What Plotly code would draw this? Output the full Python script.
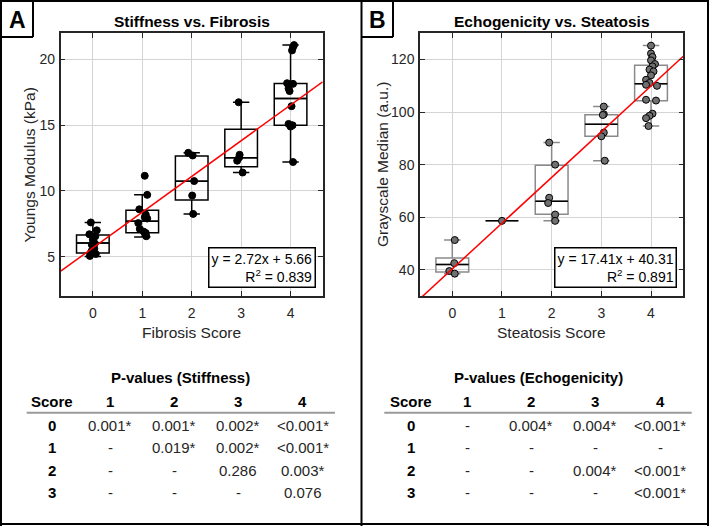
import plotly.graph_objects as go

W, H = 709, 526
FONT = "Liberation Sans, Arial, sans-serif"
TXT = "#262626"

# ---------------- data ----------------
scores = [0, 1, 2, 3, 4]

# Panel A: stiffness (kPa) by fibrosis score
stiff_vals = [
    [7.6, 7.0, 6.7, 6.55, 6.3, 6.0, 5.9, 5.6, 5.4, 5.2, 5.05],
    [11.15, 9.7, 8.6, 8.2, 8.0, 7.9, 7.55, 7.1, 6.9, 6.8, 6.55],
    [12.9, 12.7, 10.75, 9.65, 8.25],
    [16.75, 12.75, 12.55, 12.3, 11.4],
    [21.1, 20.95, 20.7, 18.2, 18.15, 17.8, 17.6, 16.45, 15.1, 15.0, 14.9, 12.2],
]
stiff_jit = [
    [-0.04, 0.08, -0.07, 0.05, 0.0, 0.04, -0.02, 0.03, -0.03, 0.06, -0.06],
    [0.05, 0.1, -0.06, 0.07, 0.05, 0.1, -0.08, -0.05, 0.03, 0.07, 0.08],
    [-0.07, 0.02, 0.05, 0.01, 0.03],
    [-0.05, -0.03, -0.04, -0.08, 0.03],
    [0.07, 0.05, 0.03, -0.07, 0.05, -0.04, -0.02, 0.02, -0.04, 0.04, 0.0, 0.05],
]
stiff_q1 = [5.28, 6.81, 9.3, 11.84, 15.0]
stiff_med = [6.03, 7.7, 10.74, 12.53, 17.03]
stiff_q3 = [6.65, 8.53, 12.65, 14.69, 18.17]
stiff_lo = [5.0, 6.5, 8.25, 11.4, 12.2]
stiff_hi = [7.6, 9.7, 12.9, 16.75, 21.1]
stiff_fit = [2.72, 5.66]  # slope, intercept

# Panel B: echogenicity (grayscale median) by steatosis score
echo_vals = [
    [51.3, 42.5, 39.5, 38.5],
    [58.6],
    [88.4, 80.0, 67.4, 65.4, 61.0, 58.6],
    [102.1, 99.2, 98.9, 92.2, 90.8, 81.5],
    [125.3, 122.3, 121.0, 119.7, 118.3, 117.4, 116.2, 115.5, 114.0, 112.3,
     111.1, 110.4, 110.0, 104.7, 104.4, 99.4, 98.6, 97.7, 94.7],
]
echo_jit = [
    [0.05, 0.04, -0.06, 0.05],
    [0.0],
    [-0.05, 0.07, -0.05, -0.07, 0.07, 0.07],
    [0.05, 0.05, 0.03, 0.05, 0.0, 0.07],
    [0.0, 0.0, 0.03, 0.0, 0.08, 0.03, -0.03, 0.05, 0.0, -0.1, -0.03, -0.1,
     0.12, -0.1, 0.1, 0.03, -0.03, -0.1, -0.05],
]
echo_q1 = [39.1, 58.6, 61.1, 90.8, 104.3]
echo_med = [42.0, 58.6, 66.1, 95.4, 110.8]
echo_q3 = [44.5, 58.6, 79.8, 99.0, 117.8]
echo_lo = [38.5, 58.6, 58.6, 81.5, 94.7]
echo_hi = [51.3, 58.6, 88.4, 102.1, 125.4]
echo_fit = [17.41, 40.31]

# P-value tables
col_heads = ["1", "2", "3", "4"]
row_heads = ["0", "1", "2", "3"]
p_stiff = [
    ["0.001*", "0.001*", "0.002*", "<0.001*"],
    ["-", "0.019*", "0.002*", "<0.001*"],
    ["-", "-", "0.286", "0.003*"],
    ["-", "-", "-", "0.076"],
]
p_echo = [
    ["-", "0.004*", "0.004*", "<0.001*"],
    ["-", "-", "-", "-"],
    ["-", "-", "0.004*", "<0.001*"],
    ["-", "-", "-", "<0.001*"],
]

# ---------------- layout helpers ----------------
def px(x):
    return x / W

def py(y):
    return 1 - y / H

XR = [-0.65, 4.65]
BOXW = 0.66

fig = go.Figure()

def add_panel(xa, ya, vals, jit, q1, med, q3, lo, hi, fit, boxcol, mk_fill):
    fig.add_trace(go.Box(
        x=scores, q1=q1, median=med, q3=q3, lowerfence=lo, upperfence=hi,
        width=BOXW, whiskerwidth=0.5, boxpoints=False,
        fillcolor="rgba(0,0,0,0)", line=dict(color=boxcol, width=1.5),
        xaxis=xa, yaxis=ya, showlegend=False, hoverinfo="skip"))
    # median lines in black
    mx, my = [], []
    for s, m in zip(scores, med):
        mx += [s - BOXW / 2, s + BOXW / 2, None]
        my += [m, m, None]
    fig.add_trace(go.Scatter(x=mx, y=my, mode="lines",
                             line=dict(color="black", width=1.5),
                             xaxis=xa, yaxis=ya, showlegend=False, hoverinfo="skip"))
    xs, ys = [], []
    for s, v, j in zip(scores, vals, jit):
        xs += [s + d for d in j]
        ys += v
    fig.add_trace(go.Scatter(x=xs, y=ys, mode="markers",
                             marker=dict(size=7, color=mk_fill,
                                         line=dict(color="black", width=1)),
                             xaxis=xa, yaxis=ya, showlegend=False, hoverinfo="skip"))
    fig.add_trace(go.Scatter(x=XR, y=[fit[0] * x + fit[1] for x in XR], mode="lines",
                             line=dict(color="#ff0000", width=1.5),
                             xaxis=xa, yaxis=ya, showlegend=False, hoverinfo="skip"))

add_panel("x", "y", stiff_vals, stiff_jit, stiff_q1, stiff_med, stiff_q3,
          stiff_lo, stiff_hi, stiff_fit, "black", "black")
add_panel("x2", "y2", echo_vals, echo_jit, echo_q1, echo_med, echo_q3,
          echo_lo, echo_hi, echo_fit, "#8a8a8a", "#707070")

ax_common = dict(showgrid=True, gridcolor="#d4d4d4", gridwidth=1,
                 showline=True, linecolor=TXT, linewidth=1.5, mirror="ticks",
                 ticks="inside", ticklen=5, tickcolor=TXT, tickwidth=1,
                 zeroline=False, automargin=False,
                 tickfont=dict(family=FONT, size=14, color=TXT))

ydom = [py(296), py(33.3)]
fig.update_layout(
    width=W, height=H, margin=dict(l=0, r=0, t=0, b=0),
    paper_bgcolor="white", plot_bgcolor="white", template="none",
    xaxis=dict(domain=[px(60.7), px(322.7)], range=XR, tickvals=scores,
               anchor="y", ticklabelstandoff=3, **ax_common),
    yaxis=dict(domain=ydom, range=[2, 22], tickvals=[5, 10, 15, 20],
               anchor="x", ticklabelstandoff=1, **ax_common),
    xaxis2=dict(domain=[px(420), px(683.3)], range=XR, tickvals=scores,
                anchor="y2", ticklabelstandoff=3, **ax_common),
    yaxis2=dict(domain=ydom, range=[30, 130], tickvals=[40, 60, 80, 100, 120],
                anchor="x2", ticklabelstandoff=1, **ax_common),
)

ann = []
def text(x, y, t, size=15, bold=False, color=TXT, angle=0, xanchor="center"):
    if bold:
        t = "<b>" + t + "</b>"
    ann.append(dict(x=px(x), y=py(y), xref="paper", yref="paper", text=t,
                    showarrow=False, xanchor=xanchor, yanchor="middle",
                    textangle=angle, font=dict(family=FONT, size=size, color=color)))

def esc(s):
    return s.replace("<", "&lt;")

# panel letters
text(17, 20, "A", size=23, bold=True, color="black")
text(378, 20, "B", size=23, bold=True, color="black")

# titles
text(191.7, 21.5, "Stiffness vs. Fibrosis", size=15.5, bold=True, color="black")
text(551.7, 21.5, "Echogenicity vs. Steatosis", size=15.5, bold=True, color="black")

# axis titles
text(28.5, 165, "Youngs Modulus (kPa)", size=15.5, angle=-90)
text(382, 165, "Grayscale Median (a.u.)", size=15.5, angle=-90)
text(191.7, 332.5, "Fibrosis Score", size=15.5)
text(551.7, 332.5, "Steatosis Score", size=15.5)

# equation boxes
for xa, ya, fit, r2 in [("x", "y", stiff_fit, "0.839"), ("x2", "y2", echo_fit, "0.891")]:
    ann.append(dict(xref=xa + " domain", yref=ya + " domain", x=0.975, y=0.03,
                    xanchor="right", yanchor="bottom", align="right", showarrow=False,
                    text=f"y = {fit[0]:.2f}x + {fit[1]:.2f}<br>R<sup>2</sup> = {r2}",
                    font=dict(family=FONT, size=14, color="black"),
                    bordercolor="black", borderwidth=1.5, borderpad=2, bgcolor="white"))

# tables
def table(title, title_x, score_x, col_x, rows):
    text(title_x, 377.3, title, size=15, bold=True, color="black")
    hy = 401.7
    text(score_x, hy, "Score", size=15, bold=True, color="black")
    for cx, ch in zip(col_x, col_heads):
        text(cx, hy, ch, size=15, bold=True, color="black")
    row_y = [425, 447, 470, 492.5]
    for ry, rh, row in zip(row_y, row_heads, rows):
        text(score_x, ry, rh, size=15, bold=True, color="black")
        for cx, v in zip(col_x, row):
            text(cx, ry, esc(v), size=15, color=TXT)

table("P-values (Stiffness)", 180.2, 52.2, [110, 174.3, 238.3, 302.5], p_stiff)
table("P-values (Echogenicity)", 538.8, 410.5, [467, 531, 595, 660], p_echo)

shapes = []
def line(x0, y0, x1, y1, color="black", width=2):
    shapes.append(dict(type="line", xref="paper", yref="paper",
                       x0=px(x0), y0=py(y0), x1=px(x1), y1=py(y1),
                       line=dict(color=color, width=width)))

# table rules
line(26.7, 412.7, 335, 412.7, color="#9a9a9a", width=2)
line(384.3, 412.7, 691.7, 412.7, color="#9a9a9a", width=2)

# outer frame and divider
line(1, 0, 1, H, width=2)
line(W - 1, 0, W - 1, H, width=2)
line(0, 1, W, 1, width=2)
line(0, H - 2, W, H - 2, width=2)
line(361.5, 0, 361.5, H, width=2)
# letter boxes
line(33, 0, 33, 37, width=2)
line(0, 37, 33, 37, width=2)
line(393, 0, 393, 37, width=2)
line(361.5, 37, 393, 37, width=2)

fig.update_layout(annotations=ann, shapes=shapes)
fig.write_html("out.html",
               config={"displayModeBar": False},
               post_script="document.body.style.margin='0px';"
                           "document.body.style.overflow='hidden';")
